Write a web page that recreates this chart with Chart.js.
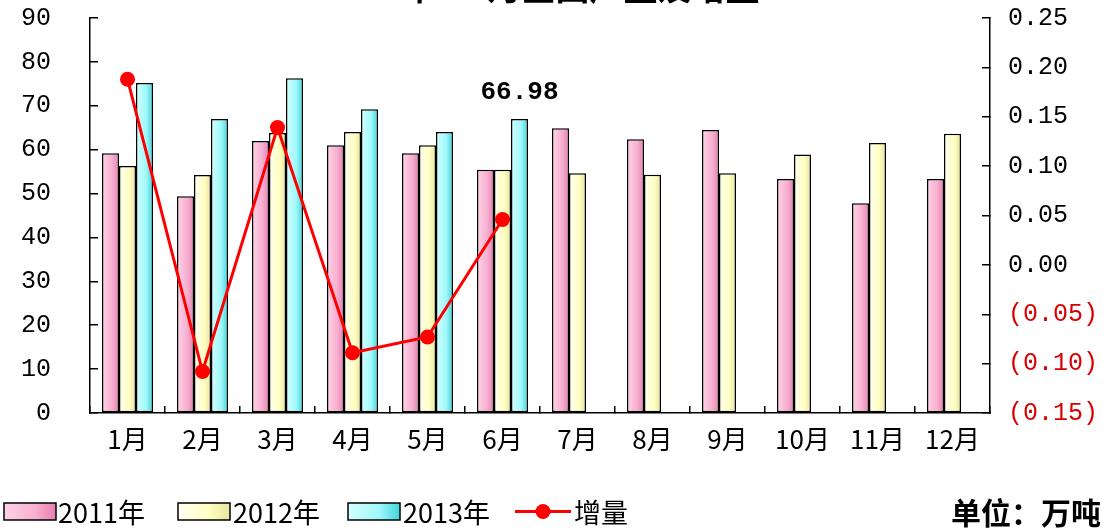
<!DOCTYPE html>
<html>
<head>
<meta charset="utf-8">
<script src="https://cdn.jsdelivr.net/npm/chart.js@4/dist/chart.umd.min.js"></script>
<style>
  html, body { margin: 0; padding: 0; background: #fff; }
  #wrap { width: 1107px; height: 531px; }
</style>
</head>
<body>
<div id="wrap"><canvas id="outputChart"></canvas></div>
<script>
// chart data
const months = ['1月', '2月', '3月', '4月', '5月', '6月', '7月', '8月', '9月', '10月', '11月', '12月'];
const output2011 = [59.2, 49.4, 62.0, 61.0, 59.2, 55.4, 64.9, 62.4, 64.5, 53.3, 47.8, 53.3];
const output2012 = [56.3, 54.2, 63.8, 64.0, 61.0, 55.4, 54.6, 54.3, 54.6, 58.9, 61.5, 63.6];
const output2013 = [75.2, 67.0, 76.3, 69.2, 64.0, 66.98, null, null, null, null, null, null];
const increment = [0.188, -0.108, 0.139, -0.089, -0.073, 0.046, null, null, null, null, null, null];
const seriesNames = ['2011年', '2012年', '2013年', '增量'];
const leftTicks = { min: 0, max: 90, step: 10 };
const rightTicks = { min: -0.15, max: 0.25, step: 0.05 };
const highlightLabel = '66.98';
const chartTitle = '2013年1-6月全国产量及增量';
const unitText = '单位：万吨';

const NUM_FONT = "'Liberation Mono', 'DejaVu Sans Mono', monospace";
const CJK_FONT = "'Noto Sans CJK SC', 'Liberation Mono', sans-serif";

const pink = ['#ffd2e6', '#f7b0d0', '#e67eb0'];
const yellow = ['#fffff0', '#ffffc4', '#e8e49c'];
const cyan = ['#d4ffff', '#a0f8fa', '#3fd4dc'];

// horizontal gradient across each bar, worked out from the category scale
function barFill(c, colors, ds) {
  const x = c.chart.scales.x;
  if (c.type !== 'data' || !x || !x.width) return colors[1];
  const step = x.width / months.length;
  const w = step * 0.68 / 3;
  const left = x.getPixelForValue(c.dataIndex) - 1.5 * w + ds * w;
  const g = c.chart.ctx.createLinearGradient(left, 0, left + w, 0);
  g.addColorStop(0, colors[0]);
  g.addColorStop(0.6, colors[1]);
  g.addColorStop(1, colors[2]);
  return g;
}

function legendFill(ctx, x, w, colors) {
  const g = ctx.createLinearGradient(x, 0, x + w, 0);
  g.addColorStop(0, colors[0]);
  g.addColorStop(0.6, colors[1]);
  g.addColorStop(1, colors[2]);
  return g;
}

// vertical axes: no extra room for half labels, the plot box is fixed
function fixVertical(width) {
  return s => {
    s.width = width;
    s.paddingTop = 0;
    s.paddingBottom = 0;
  };
}

// title, value label, legend and unit
const extras = {
  id: 'extras',
  afterDraw(chart) {
    const ctx = chart.ctx;
    ctx.save();

    // title (cut off at the top like the source)
    ctx.fillStyle = '#000';
    ctx.font = "bold 34px " + CJK_FONT;
    ctx.textAlign = 'center';
    ctx.textBaseline = 'bottom';
    ctx.fillText(chartTitle, 540, 4);

    // label above June 2013 bar
    const bar = chart.getDatasetMeta(3).data[5];
    if (bar) {
      ctx.font = "bold 26px " + NUM_FONT;
      ctx.textBaseline = 'bottom';
      ctx.fillText(highlightLabel, bar.x, bar.y - 14);
    }

    // legend
    const ly = 503, lh = 17;
    const boxes = [
      { x: 4, colors: pink, text: seriesNames[0], tx: 58 },
      { x: 178, colors: yellow, text: seriesNames[1], tx: 233 },
      { x: 348, colors: cyan, text: seriesNames[2], tx: 403 }
    ];
    ctx.font = "27px " + CJK_FONT;
    ctx.textAlign = 'left';
    ctx.textBaseline = 'middle';
    boxes.forEach(b => {
      ctx.fillStyle = legendFill(ctx, b.x, 52, b.colors);
      ctx.fillRect(b.x, ly, 52, lh);
      ctx.strokeStyle = '#000';
      ctx.lineWidth = 1.5;
      ctx.strokeRect(b.x, ly, 52, lh);
      ctx.fillStyle = '#000';
      ctx.fillText(b.text, b.tx, ly + lh / 2 + 1);
    });
    ctx.strokeStyle = '#ff0000';
    ctx.lineWidth = 3;
    ctx.beginPath();
    ctx.moveTo(515, ly + lh / 2);
    ctx.lineTo(571, ly + lh / 2);
    ctx.stroke();
    ctx.fillStyle = '#ff0000';
    ctx.beginPath();
    ctx.arc(543, ly + lh / 2, 7.5, 0, Math.PI * 2);
    ctx.fill();
    ctx.fillStyle = '#000';
    ctx.fillText(seriesNames[3], 574, ly + lh / 2 + 1);

    // unit
    ctx.font = "bold 30px " + CJK_FONT;
    ctx.textAlign = 'right';
    ctx.fillText(unitText, 1101, ly + lh / 2 + 1);

    ctx.restore();
  }
};

document.addEventListener('DOMContentLoaded', () => {
  const ctx = document.getElementById('outputChart');

  new Chart(ctx, {
    type: 'bar',
    data: {
      labels: months,
      datasets: [
        {
          type: 'line',
          label: seriesNames[3],
          data: increment,
          yAxisID: 'y1',
          order: 0,
          borderColor: '#ff0000',
          backgroundColor: '#ff0000',
          borderWidth: 3,
          pointRadius: 7.5,
          pointHoverRadius: 7.5,
          pointBackgroundColor: '#ff0000',
          pointBorderWidth: 0,
          tension: 0,
          spanGaps: false
        },
        {
          label: seriesNames[0],
          data: output2011,
          yAxisID: 'y',
          order: 1,
          backgroundColor: c => barFill(c, pink, 0),
          borderColor: '#000',
          borderWidth: 1.5,
          borderSkipped: false
        },
        {
          label: seriesNames[1],
          data: output2012,
          yAxisID: 'y',
          order: 1,
          backgroundColor: c => barFill(c, yellow, 1),
          borderColor: '#000',
          borderWidth: 1.5,
          borderSkipped: false
        },
        {
          label: seriesNames[2],
          data: output2013,
          yAxisID: 'y',
          order: 1,
          backgroundColor: c => barFill(c, cyan, 2),
          borderColor: '#000',
          borderWidth: 1.5,
          borderSkipped: false
        }
      ]
    },
    options: {
      responsive: true,
      maintainAspectRatio: false,
      animation: false,
      categoryPercentage: 0.68,
      barPercentage: 1.0,
      layout: { padding: { top: 18, left: 0, right: 0, bottom: 0 } },
      plugins: {
        legend: { display: false },
        tooltip: { enabled: false },
        title: { display: false }
      },
      scales: {
        x: {
          grid: {
            drawOnChartArea: false,
            tickLength: -7,
            color: '#000',
            lineWidth: 1.5
          },
          border: { display: true, color: '#000', width: 1.5 },
          ticks: {
            color: '#000',
            font: { family: CJK_FONT, size: 26 },
            padding: 18,
            maxRotation: 0,
            autoSkip: false
          },
          afterFit: s => {
            s.height = 118;
            s.paddingLeft = 0;
            s.paddingRight = 0;
          }
        },
        y: {
          position: 'left',
          min: leftTicks.min,
          max: leftTicks.max,
          grid: {
            drawOnChartArea: false,
            tickLength: -8,
            color: '#000',
            lineWidth: 1.5
          },
          border: { display: true, color: '#000', width: 1.5 },
          ticks: {
            stepSize: leftTicks.step,
            color: '#000',
            font: { family: NUM_FONT, size: 25 },
            padding: 47
          },
          afterFit: fixVertical(90)
        },
        y1: {
          position: 'right',
          min: rightTicks.min,
          max: rightTicks.max,
          grid: {
            drawOnChartArea: false,
            tickLength: -8,
            color: '#000',
            lineWidth: 1.5
          },
          border: { display: true, color: '#000', width: 1.5 },
          ticks: {
            stepSize: rightTicks.step,
            color: c => (c.tick && c.tick.value < -1e-9) ? '#d80000' : '#000',
            font: { family: NUM_FONT, size: 25 },
            padding: 26,
            callback: v => v < -1e-9 ? '(' + Math.abs(v).toFixed(2) + ')' : Math.abs(v).toFixed(2)
          },
          afterFit: fixVertical(117)
        }
      }
    },
    plugins: [extras]
  });
});
</script>
</body>
</html>
